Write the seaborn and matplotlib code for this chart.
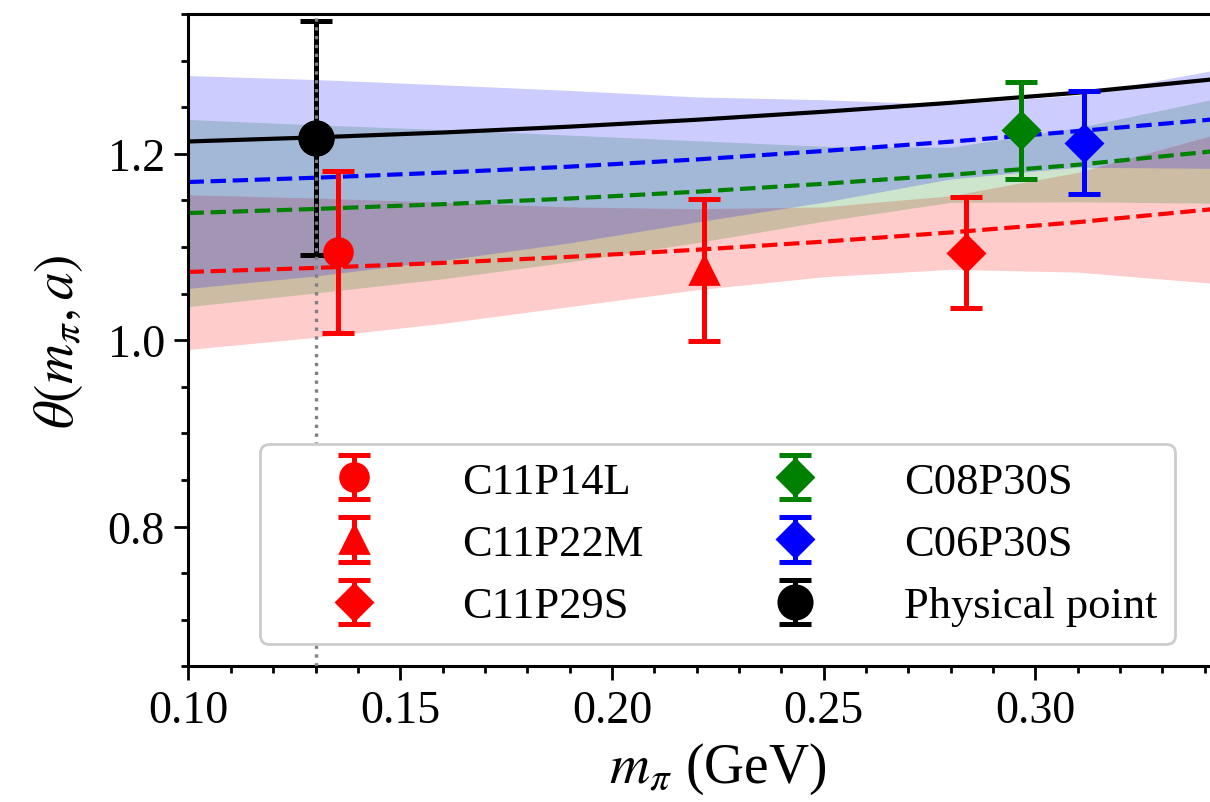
import matplotlib
matplotlib.use("Agg")
import matplotlib.pyplot as plt
import seaborn as sns
from matplotlib.ticker import MultipleLocator, FixedLocator, FormatStrFormatter

# Lattice ensembles: pion mass (GeV) and theta values with errors
labels = ["C11P14L", "C11P22M", "C11P29S", "C08P30S", "C06P30S"]
m_pi = [0.1352, 0.2218, 0.2836, 0.2966, 0.3115]
theta = [1.095, 1.075, 1.094, 1.225, 1.212]
theta_err = [0.087, 0.076, 0.060, 0.052, 0.055]
colors = ["red", "red", "red", "green", "blue"]
markers = ["o", "^", "D", "D", "D"]

# Extrapolated physical point
phys_m = 0.130
phys_theta = 1.217
phys_err = 0.126

# Fit curves and error bands, sampled in pion mass
m_grid = [0.10, 0.13, 0.16, 0.19, 0.22, 0.25, 0.28, 0.31, 0.35]

fit_c11 = [1.0732, 1.0775, 1.0829, 1.0894, 1.0970, 1.1057, 1.1156, 1.1266, 1.1441]
c11_lo = [0.990, 1.003, 1.018, 1.036, 1.054, 1.068, 1.076, 1.073, 1.058]
c11_hi = [1.156, 1.1525, 1.148, 1.143, 1.141, 1.143, 1.155, 1.180, 1.230]

fit_c08 = [1.1364, 1.1408, 1.1459, 1.1520, 1.1593, 1.1678, 1.1774, 1.1882, 1.2063]
c08_lo = [1.036, 1.0506, 1.0658, 1.084, 1.1046, 1.1276, 1.1478, 1.1484, 1.1466]
c08_hi = [1.2368, 1.231, 1.226, 1.220, 1.214, 1.208, 1.207, 1.228, 1.266]

fit_c06 = [1.1697, 1.1743, 1.1798, 1.1862, 1.1939, 1.2030, 1.2130, 1.2243, 1.2400]
c06_lo = [1.0555, 1.0689, 1.0856, 1.1044, 1.1268, 1.148, 1.173, 1.1856, 1.184]
c06_hi = [1.2839, 1.2797, 1.274, 1.268, 1.261, 1.258, 1.253, 1.263, 1.296]

fit_cont = [1.2132, 1.2176, 1.2228, 1.2291, 1.2365, 1.2451, 1.2547, 1.2655, 1.2835]

x_ticks = [0.10, 0.15, 0.20, 0.25, 0.30]

sns.set_style("ticks")
plt.rcParams["font.family"] = ["Liberation Serif", "DejaVu Serif"]
plt.rcParams["mathtext.fontset"] = "stix"
plt.rcParams["axes.linewidth"] = 1.1
for key in ["text.color", "axes.labelcolor", "axes.edgecolor", "xtick.color", "ytick.color"]:
    plt.rcParams[key] = "black"

fig = plt.figure(figsize=(6.05, 4.015), dpi=200)
ax = fig.add_axes([188.5 / 1210, 135.7 / 803, 1058.5 / 1210, 652.3 / 803])

# error bands
for lo, hi, c in [(c11_lo, c11_hi, "red"), (c08_lo, c08_hi, "green"), (c06_lo, c06_hi, "blue")]:
    ax.fill_between(m_grid, lo, hi, color=c, alpha=0.2, linewidth=0, zorder=1)

# fit curves
for fit, c in [(fit_c11, "red"), (fit_c08, "green"), (fit_c06, "blue")]:
    sns.lineplot(x=m_grid, y=fit, color=c, linestyle="--", linewidth=1.5,
                 ax=ax, legend=False, zorder=2)
sns.lineplot(x=m_grid, y=fit_cont, color="black", linestyle="-", linewidth=1.5,
             ax=ax, legend=False, zorder=2)

# data points
for x, y, e, c, mk, lab in zip(m_pi, theta, theta_err, colors, markers, labels):
    ax.errorbar(x, y, yerr=e, fmt=mk, color=c, ms=10 if mk != "D" else 9.3,
                capsize=5.8, elinewidth=1.8, capthick=1.8, label=lab, zorder=3)

ax.errorbar(phys_m, phys_theta, yerr=phys_err, fmt="o", color="black", ms=12,
            capsize=5.8, elinewidth=1.8, capthick=1.8, label="Physical point", zorder=3)
ax.axvline(phys_m, color="gray", linestyle=":", linewidth=1.2, zorder=4)
ax.plot([phys_m], [phys_theta], "o", color="black", ms=12, zorder=5)

ax.set_xlim(0.10, 0.35)
ax.set_ylim(0.65, 1.35)
ax.xaxis.set_major_locator(FixedLocator(x_ticks))
ax.xaxis.set_minor_locator(MultipleLocator(0.01))
ax.yaxis.set_major_locator(MultipleLocator(0.2))
ax.yaxis.set_minor_locator(MultipleLocator(0.05))
ax.xaxis.set_major_formatter(FormatStrFormatter("%.2f"))
ax.yaxis.set_major_formatter(FormatStrFormatter("%.1f"))
ax.tick_params(which="major", length=5, width=1.0, labelsize=16.5, direction="out")
ax.tick_params(which="minor", length=2.5, width=1.0, direction="out")
ax.tick_params(top=False, right=False)

ax.set_xlabel(r"$m_\pi$ (GeV)", fontsize=20, labelpad=3)
ax.set_ylabel(r"$\theta(m_\pi, a)$", fontsize=20, labelpad=8)

leg = ax.legend(loc="lower center", ncol=2, fontsize=16, handlelength=3.4,
                handletextpad=0.75, columnspacing=1.7, framealpha=1.0,
                edgecolor="0.8", fancybox=True)
leg.set_zorder(10)

fig.savefig("out.png", dpi=200)
